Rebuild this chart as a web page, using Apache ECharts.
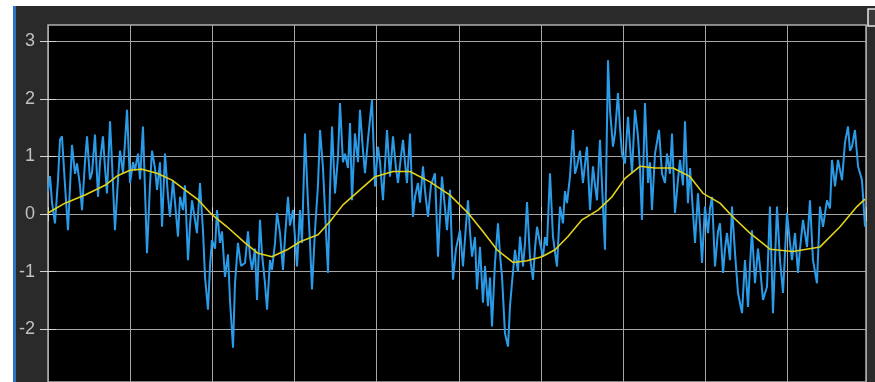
<!DOCTYPE html>
<html>
<head>
<meta charset="utf-8">
<script src="https://cdn.jsdelivr.net/npm/echarts@6/dist/echarts.min.js"></script>
<style>
html,body{margin:0;padding:0;background:#ffffff;width:875px;height:382px;overflow:hidden;}
#bg{position:absolute;left:13px;top:6px;width:862px;height:376px;background:#2a2a2a;border-left:3px solid #2b73c2;box-sizing:border-box;}
#chart{position:absolute;left:0;top:0;width:875px;height:382px;}
</style>
</head>
<body>
<div id="bg"></div>
<div id="chart"></div>
<script>
// y tick labels
const yTicks = [-2, -1, 0, 1, 2, 3];
// time (divisions) of noisy signal samples
const blueT = [
0,0.024,0.049,0.085,0.122,0.146,0.170,0.207,0.243,0.292,
0.329,0.353,0.389,0.414,0.450,0.475,0.511,0.536,0.572,0.609,
0.633,0.669,0.694,0.718,0.755,0.779,0.815,0.852,0.876,0.913,
0.962,0.998,1.035,1.059,1.095,1.120,1.156,1.205,1.241,1.266,
1.302,1.327,1.363,1.388,1.424,1.461,1.485,1.521,1.546,1.582,
1.607,1.643,1.667,1.704,1.728,1.753,1.789,1.813,1.850,1.887,
1.911,1.947,1.972,1.996,2.033,2.057,2.093,2.118,2.154,2.191,
2.215,2.252,2.276,2.312,2.349,2.398,2.434,2.459,2.483,2.519,
2.544,2.580,2.605,2.641,2.666,2.702,2.726,2.763,2.787,2.824,
2.860,2.885,2.921,2.945,2.982,3.006,3.031,3.067,3.091,3.128,
3.164,3.189,3.213,3.250,3.286,3.311,3.347,3.371,3.408,3.432,
3.457,3.493,3.530,3.554,3.590,3.615,3.651,3.676,3.700,3.736,
3.773,3.797,3.834,3.858,3.895,3.943,3.980,4.016,4.041,4.077,
4.126,4.162,4.199,4.235,4.260,4.296,4.321,4.345,4.369,4.406,
4.442,4.467,4.503,4.528,4.564,4.589,4.625,4.661,4.710,4.747,
4.795,4.832,4.856,4.893,4.929,4.966,5.014,5.051,5.087,5.112,
5.136,5.161,5.197,5.221,5.258,5.294,5.319,5.355,5.380,5.404,
5.440,5.477,5.501,5.526,5.562,5.599,5.623,5.647,5.684,5.720,
5.745,5.781,5.806,5.830,5.866,5.903,5.927,5.952,5.988,6.025,
6.049,6.073,6.110,6.146,6.195,6.232,6.268,6.292,6.317,6.353,
6.390,6.414,6.439,6.475,6.511,6.560,6.597,6.633,6.658,6.682,
6.718,6.755,6.779,6.816,6.840,6.877,6.901,6.937,6.962,6.986,
7.023,7.059,7.083,7.108,7.144,7.181,7.205,7.229,7.266,7.303,
7.327,7.351,7.388,7.437,7.473,7.510,7.534,7.570,7.595,7.631,
7.668,7.692,7.729,7.753,7.789,7.814,7.838,7.875,7.911,7.936,
7.960,7.996,8.033,8.057,8.082,8.118,8.155,8.179,8.216,8.240,
8.264,8.301,8.325,8.362,8.398,8.447,8.483,8.520,8.544,8.568,
8.605,8.641,8.666,8.702,8.751,8.787,8.824,8.873,8.909,8.946,
8.994,9.031,9.055,9.092,9.128,9.153,9.189,9.238,9.274,9.311,
9.359,9.396,9.433,9.481,9.518,9.542,9.579,9.615,9.664,9.700,
9.737,9.761,9.785,9.822,9.859,9.907,9.944
];
// noisy signal values
const blueV = [
0.4,0.66,0.2,-0.16,0.6,1.29,1.35,0.5,-0.28,1.2,
0.7,0.88,0.5,0.07,0.9,1.35,0.6,0.72,1.38,0.3,
0.9,1.35,0.8,0.36,1.61,0.9,-0.28,0.6,1.1,0.71,
1.81,0.54,0.9,0.76,1.05,0.6,1.52,-0.68,0.5,1.1,
0.8,0.42,0.9,-0.22,1.05,0.3,-0.05,0.59,0.2,-0.39,
0.3,0.07,0.5,-0.8,-0.2,0.24,-0.1,-0.33,0.54,-0.3,
-1.09,-1.66,-0.9,-0.45,-0.6,0.07,-0.5,-0.3,-1.09,-0.7,
-1.5,-2.32,-1.2,-0.5,-0.9,-0.85,-0.3,-0.74,-0.97,-0.6,
-1.49,-0.1,-0.7,-1.2,-1.66,-0.8,-0.97,-0.5,0.02,-0.33,
-0.97,-0.4,0.3,-0.2,0.07,-0.4,-0.91,0.07,-0.5,1.4,
0.2,-0.5,-1.31,-0.28,0.5,1.46,0.8,0.07,-1.02,0.4,
1.52,0.36,1.0,1.93,0.9,1.05,0.8,1.58,0.24,1.4,
0.9,1.81,1.1,0.71,1.3,1.98,0.48,1.17,0.9,0.24,
1.46,0.65,1.35,0.8,0.54,1.0,1.29,0.9,0.54,1.4,
-0.05,0.3,0.54,0.2,0.83,0.4,-0.05,0.5,0.71,-0.74,
0.65,0.1,-0.28,0.42,-1.14,-0.6,-0.28,-0.91,-0.2,0.24,
-0.3,-0.74,-0.4,-1.31,-0.57,-1.54,-0.9,-1.6,-1.1,-1.95,
-0.85,-0.16,-0.7,-1.09,-2.07,-2.3,-1.6,-1.2,-0.62,-1.0,
-0.39,-0.91,-0.5,0.21,-0.74,-1.14,-0.6,-0.22,-0.5,-0.74,
-0.4,-0.55,0.71,-0.39,-0.91,0.13,-0.16,0.4,0.19,0.65,
1.46,0.7,0.83,1.1,0.54,1.17,0.07,0.83,0.5,0.24,
1.29,0.13,-0.62,2.67,1.8,1.17,1.4,2.1,1.5,1.05,
0.88,1.69,1.2,0.71,1.81,1.35,0.8,-0.1,1.93,0.54,
0.9,0.07,1.05,1.46,0.7,0.54,1.05,0.7,1.4,0.02,
0.6,0.94,0.5,1.61,0.19,0.8,0.3,-0.5,0.36,-0.2,
-0.85,0.13,-0.33,0.1,0.3,-0.91,-0.3,-0.16,-1.02,-0.6,
-0.33,-0.8,0.13,-0.68,-1.37,-1.72,-0.8,-1.61,-0.9,-0.28,
-1.2,-0.6,-0.91,-1.49,-1.26,0.13,-1.72,0.13,-0.8,-1.37,
0.02,-0.5,-0.8,-0.33,-1.02,-0.6,-0.1,-0.57,0.24,-0.8,
-1.2,0.13,-0.22,0.24,0.1,0.94,0.48,0.94,0.59,1.24,
1.52,1.1,1.17,1.46,0.83,0.59,-0.22
];
// filtered signal
const yellowT = [0,0.207,0.450,0.694,0.840,0.998,1.144,1.327,1.509,1.667,
1.826,1.996,2.179,2.398,2.556,2.726,2.909,3.067,3.286,3.432,
3.590,3.797,3.980,4.199,4.406,4.649,4.893,5.112,5.282,5.465,
5.660,5.830,6.012,6.171,6.329,6.499,6.694,6.864,7.023,7.205,
7.388,7.607,7.814,7.972,8.179,8.337,8.544,8.787,9.067,9.396,
9.640,9.846,9.944];
const yellowV = [0.02,0.19,0.33,0.5,0.66,0.76,0.78,0.71,0.59,0.42,
0.25,-0.01,-0.22,-0.5,-0.68,-0.74,-0.62,-0.48,-0.36,-0.13,
0.16,0.42,0.65,0.74,0.74,0.56,0.33,0.02,-0.28,-0.62,
-0.84,-0.81,-0.74,-0.62,-0.39,-0.10,0.07,0.3,0.62,0.83,
0.8,0.8,0.65,0.36,0.19,-0.05,-0.33,-0.61,-0.65,-0.57,
-0.22,0.13,0.26];

const blueData = blueT.map((t, i) => [t, blueV[i]]);
const yellowData = yellowT.map((t, i) => [t, yellowV[i]]);

const chart = echarts.init(document.getElementById('chart'), null, {renderer: 'canvas'});
const gridCol = '#a6a6a6';
const tickCol = '#d6d6d6';
const xBase = {
  type: 'value', min: 0, max: 9.956, interval: 1,
  axisLine: {show: false},
  axisLabel: {show: false},
  axisTick: {show: true, inside: true, length: 7, lineStyle: {color: tickCol, width: 1}}
};
const yBase = {
  type: 'value', min: -2.915, max: 3.283,
  axisLine: {show: false},
  axisTick: {show: true, inside: true, length: 8, customValues: yTicks, lineStyle: {color: tickCol, width: 1}}
};
chart.setOption({
  animation: false,
  backgroundColor: 'transparent',
  grid: {left: 48, right: 9, top: 25, bottom: 0, show: true, backgroundColor: '#000000', borderColor: '#b0b0b0', borderWidth: 1.5},
  xAxis: [
    Object.assign({}, xBase, {position: 'bottom', splitLine: {show: true, lineStyle: {color: gridCol, width: 1}}}),
    Object.assign({}, xBase, {position: 'top', splitLine: {show: false}})
  ],
  yAxis: [
    Object.assign({}, yBase, {
      position: 'left',
      splitLine: {show: true, lineStyle: {color: gridCol, width: 1}},
      axisLabel: {show: true, customValues: yTicks, color: '#c0c0c0', fontSize: 18, fontFamily: 'Liberation Sans, Arial, sans-serif', margin: 13}
    }),
    Object.assign({}, yBase, {position: 'right', splitLine: {show: false}, axisLabel: {show: false}})
  ],
  graphic: [{
    type: 'rect', shape: {x: 868, y: 9, width: 14, height: 17},
    style: {fill: '#3a3a3a', stroke: '#e6e6e6', lineWidth: 1.5}, silent: true
  }],
  series: [
    {type: 'line', data: blueData, showSymbol: false, lineStyle: {color: '#2b9be8', width: 2}, z: 2},
    {type: 'line', data: yellowData, showSymbol: false, lineStyle: {color: '#e2d21a', width: 1.6}, z: 3}
  ]
});
</script>
</body>
</html>
